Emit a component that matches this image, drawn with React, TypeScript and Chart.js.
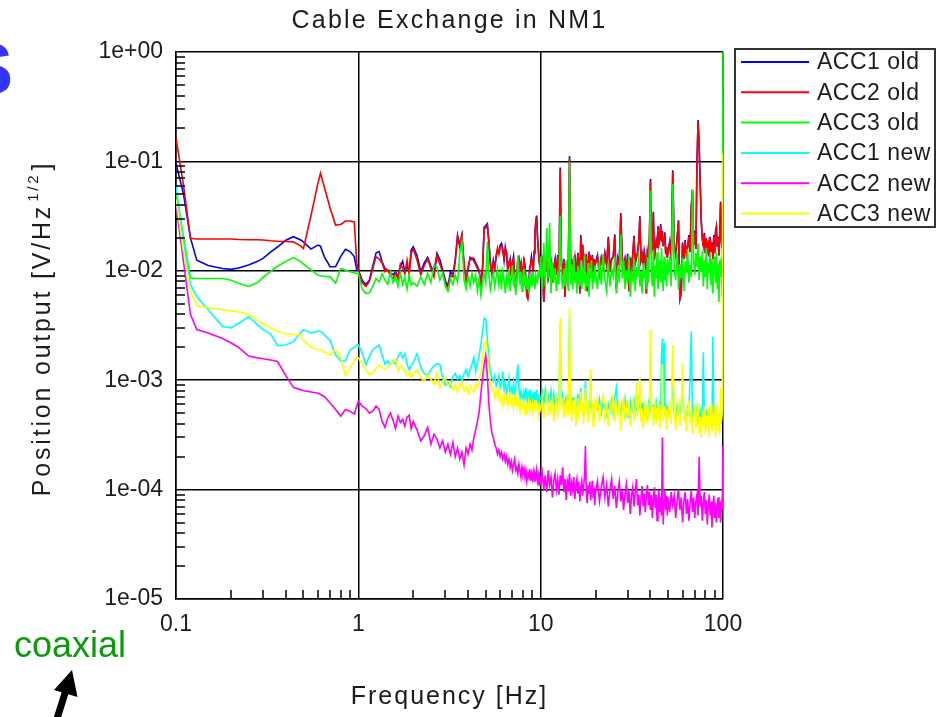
import React, { useEffect, useRef } from 'react';
import { Chart, registerables } from 'chart.js';

Chart.register(...registerables);

// Frequency bins [Hz]
const freq = [
  0.1, 0.11, 0.12, 0.13, 0.15, 0.18, 0.2, 0.22, 0.25, 0.28, 0.3, 0.33, 0.36, 0.4, 0.44, 0.48, 0.5, 0.55, 0.6, 0.62, 0.65, 0.7, 0.75, 0.8, 0.85, 0.9, 0.95, 0.98,
  1, 1.05, 1.1, 1.15, 1.2, 1.25, 1.3, 1.35, 1.4, 1.45, 1.5, 1.55, 1.6, 1.65, 1.7, 1.75, 1.8, 1.85, 1.9, 1.95,
  2, 2.1, 2.2, 2.3, 2.4, 2.5, 2.6, 2.7, 2.8, 2.9, 3, 3.1, 3.2, 3.3, 3.4, 3.5, 3.6, 3.7, 3.8, 3.9, 4, 4.1, 4.2, 4.3, 4.4, 4.5, 4.6, 4.7, 4.8, 4.9,
  5, 5.1, 5.2, 5.3, 5.4, 5.5, 5.6, 5.7, 5.8, 5.9, 6, 6.1, 6.2, 6.3, 6.4, 6.5, 6.6, 6.7, 6.8, 6.9,
  7, 7.1, 7.2, 7.3, 7.4, 7.5, 7.6, 7.7, 7.8, 7.9, 8, 8.1, 8.2, 8.3, 8.4, 8.5, 8.6, 8.7, 8.8, 8.9,
  9, 9.1, 9.2, 9.3, 9.4, 9.5, 9.6, 9.7, 9.8, 9.9,
  10, 10.2, 10.4, 10.6, 10.8, 11, 11.2, 11.4, 11.6, 11.8, 12, 12.2, 12.4, 12.6, 12.8, 13, 13.2, 13.4, 13.6, 13.8,
  14, 14.2, 14.4, 14.6, 14.8, 15, 15.2, 15.4, 15.6, 15.8, 16, 16.2, 16.4, 16.6, 16.8, 17, 17.2, 17.4, 17.6, 17.8,
  18, 18.2, 18.4, 18.6, 18.8, 19, 19.2, 19.4, 19.6, 19.8,
  20, 20.5, 21, 21.5, 22, 22.5, 23, 23.5, 24, 24.5, 25, 25.5, 26, 26.5, 27, 27.5, 28, 28.5, 29, 29.5,
  30, 30.5, 31, 31.5, 32, 32.5, 33, 33.5, 34, 34.5, 35, 35.5, 36, 36.5, 37, 37.5, 38, 38.5, 39, 39.5,
  40, 40.5, 41, 41.5, 42, 42.5, 43, 43.5, 44, 44.5, 45, 45.5, 46, 46.5, 47, 47.5, 48, 48.5, 49, 49.5,
  50, 51, 52, 53, 54, 55, 56, 57, 58, 59, 60, 61, 62, 63, 64, 65, 66, 67, 68, 69,
  70, 71, 72, 73, 74, 75, 76, 77, 78, 79, 80, 81, 82, 83, 84, 85, 86, 87, 88, 89,
  90, 91, 92, 93, 94, 95, 96, 97, 98, 99, 100,
];

// Position output spectra [V/Hz^1/2], one value per frequency bin
const acc1Old = [
  0.096, 0.05, 0.02, 0.0125, 0.0112, 0.0105, 0.0103, 0.0106, 0.0113, 0.0122, 0.013, 0.0148, 0.0165, 0.019, 0.0205, 0.0192, 0.0184, 0.0158, 0.0172, 0.0168, 0.0135, 0.0109, 0.0109, 0.0135, 0.0157, 0.015, 0.0135, 0.0102,
  0.0102, 0.0082, 0.0075, 0.0082, 0.011, 0.0145, 0.015, 0.0121, 0.0105, 0.0101, 0.0095, 0.0092, 0.0098, 0.0088, 0.011, 0.0122, 0.0098, 0.011, 0.0098, 0.0155,
  0.0166, 0.0137, 0.0098, 0.0118, 0.0133, 0.011, 0.0098, 0.0145, 0.0127, 0.0102, 0.0082, 0.0072, 0.0098, 0.0092, 0.0127, 0.021, 0.0166, 0.021, 0.011, 0.0085, 0.0102, 0.0133, 0.0127, 0.013, 0.0118, 0.011, 0.0098, 0.0078, 0.0102, 0.025,
  0.026, 0.027, 0.018, 0.0118, 0.0095, 0.0125, 0.0108, 0.0135, 0.0155, 0.0148, 0.0172, 0.0178, 0.0158, 0.0125, 0.0165, 0.0142, 0.0105, 0.0115, 0.0128, 0.0092,
  0.0118, 0.0135, 0.0088, 0.0068, 0.0095, 0.0125, 0.0132, 0.0105, 0.0118, 0.0092, 0.0102, 0.0125, 0.0112, 0.0085, 0.0062, 0.0058, 0.0072, 0.0102, 0.0115, 0.0135,
  0.0118, 0.0098, 0.0145, 0.022, 0.028, 0.032, 0.0215, 0.0158, 0.0128, 0.0112,
  0.0105, 0.0124, 0.0052, 0.0095, 0.0139, 0.0085, 0.0098, 0.0119, 0.0078, 0.0108, 0.0129, 0.0092, 0.0139, 0.0088, 0.088, 0.0112, 0.0098, 0.0129, 0.0058, 0.0118,
  0.0095, 0.0126, 0.112, 0.0105, 0.0129, 0.0088, 0.0118, 0.0139, 0.0092, 0.0108, 0.0146, 0.0115, 0.0062, 0.0212, 0.0125, 0.0174, 0.0098, 0.0132, 0.0112, 0.0142,
  0.0065, 0.0122, 0.015, 0.0105, 0.0128, 0.0118, 0.0139, 0.0098, 0.0128, 0.0112,
  0.0118, 0.0139, 0.0095, 0.0132, 0.0108, 0.0146, 0.0112, 0.0205, 0.0098, 0.0129, 0.0135, 0.0215, 0.0068, 0.0132, 0.0118, 0.0338, 0.0136, 0.0108, 0.0129, 0.0095,
  0.0143, 0.0065, 0.0132, 0.0102, 0.0142, 0.0209, 0.0118, 0.0132, 0.0148, 0.0185, 0.0316, 0.0125, 0.0142, 0.0112, 0.015, 0.0128, 0.0062, 0.0157, 0.0135, 0.0205,
  0.069, 0.0145, 0.0172, 0.0347, 0.0125, 0.0158, 0.0191, 0.0165, 0.0256, 0.0175, 0.0198, 0.0267, 0.0185, 0.0232, 0.0168, 0.0195, 0.0225, 0.0142, 0.0165, 0.0132,
  0.0152, 0.0184, 0.0125, 0.083, 0.0168, 0.0142, 0.0201, 0.029, 0.0055, 0.0062, 0.0181, 0.0128, 0.0191, 0.0142, 0.0165, 0.0212, 0.0148, 0.0385, 0.0552, 0.0172,
  0.0232, 0.0158, 0.099, 0.239, 0.141, 0.062, 0.0285, 0.0201, 0.0168, 0.0222, 0.0145, 0.0198, 0.0158, 0.0184, 0.0135, 0.0205, 0.0152, 0.0181, 0.0128, 0.0212,
  0.0145, 0.0232, 0.0256, 0.0165, 0.0205, 0.0138, 0.0222, 0.0428, 0.0185, 0.0162, 0.045,
];

const acc2Old = [
  0.163, 0.06, 0.0198, 0.0195, 0.0195, 0.0195, 0.0195, 0.0193, 0.0192, 0.0192, 0.0191, 0.0188, 0.0186, 0.0185, 0.0184, 0.017, 0.016, 0.032, 0.063, 0.078, 0.0587, 0.0375, 0.0262, 0.0265, 0.0285, 0.0285, 0.028, 0.012,
  0.0101, 0.0078, 0.0072, 0.008, 0.0105, 0.0135, 0.0128, 0.0118, 0.0098, 0.0102, 0.009, 0.0085, 0.0095, 0.0084, 0.0115, 0.0106, 0.0094, 0.0125, 0.0092, 0.0145,
  0.0158, 0.0125, 0.0092, 0.0112, 0.0128, 0.0105, 0.0088, 0.0138, 0.0115, 0.0098, 0.0078, 0.0068, 0.0091, 0.0088, 0.012, 0.0205, 0.0175, 0.0215, 0.0118, 0.0082, 0.0108, 0.0128, 0.0132, 0.0122, 0.0114, 0.0105, 0.0102, 0.0075, 0.0108, 0.0245,
  0.0245, 0.026, 0.0185, 0.0112, 0.0098, 0.0118, 0.0102, 0.0138, 0.0162, 0.0142, 0.0165, 0.017, 0.015, 0.0132, 0.0158, 0.0148, 0.0098, 0.0122, 0.0125, 0.0088,
  0.0125, 0.0128, 0.0082, 0.0065, 0.0088, 0.0132, 0.0128, 0.0098, 0.0122, 0.0085, 0.0098, 0.0132, 0.0105, 0.0078, 0.0058, 0.0055, 0.0065, 0.0108, 0.0112, 0.0128,
  0.0125, 0.0092, 0.0152, 0.0215, 0.0272, 0.031, 0.0205, 0.0165, 0.0122, 0.0108,
  0.0105, 0.012, 0.0052, 0.0095, 0.0135, 0.0085, 0.0098, 0.0115, 0.0078, 0.0108, 0.0125, 0.0092, 0.0135, 0.0088, 0.084, 0.0112, 0.0098, 0.0125, 0.0058, 0.0115,
  0.0095, 0.0122, 0.107, 0.0105, 0.0125, 0.0088, 0.0118, 0.0135, 0.0092, 0.0108, 0.0142, 0.0115, 0.0062, 0.0205, 0.0125, 0.0168, 0.0098, 0.0128, 0.0112, 0.0138,
  0.0065, 0.0122, 0.0145, 0.0105, 0.0128, 0.0118, 0.0135, 0.0098, 0.0125, 0.0112,
  0.0118, 0.0135, 0.0095, 0.0128, 0.0108, 0.0142, 0.0112, 0.0198, 0.0098, 0.0125, 0.0135, 0.0208, 0.0068, 0.0128, 0.0118, 0.0325, 0.0132, 0.0108, 0.0125, 0.0095,
  0.0138, 0.0065, 0.0128, 0.0102, 0.0142, 0.0202, 0.0118, 0.0132, 0.0148, 0.0185, 0.0305, 0.0125, 0.0138, 0.0112, 0.0145, 0.0128, 0.0062, 0.0152, 0.0135, 0.0198,
  0.066, 0.0145, 0.0172, 0.0335, 0.0125, 0.0158, 0.0185, 0.0165, 0.0248, 0.0175, 0.0198, 0.0258, 0.0185, 0.0225, 0.0168, 0.0195, 0.0218, 0.0142, 0.0165, 0.0132,
  0.0152, 0.0178, 0.0125, 0.08, 0.0168, 0.0142, 0.0195, 0.028, 0.0055, 0.0062, 0.0175, 0.0128, 0.0185, 0.0142, 0.0165, 0.0205, 0.0148, 0.0385, 0.0535, 0.0172,
  0.0225, 0.0158, 0.095, 0.23, 0.135, 0.062, 0.0285, 0.0195, 0.0168, 0.0215, 0.0145, 0.0192, 0.0158, 0.0178, 0.0135, 0.0198, 0.0152, 0.0175, 0.0128, 0.0205,
  0.0145, 0.0225, 0.0248, 0.0165, 0.0198, 0.0138, 0.0215, 0.0415, 0.0185, 0.0162, 0.045,
];

const acc3Old = [
  0.053, 0.02, 0.0086, 0.0085, 0.0085, 0.0085, 0.0082, 0.0077, 0.0072, 0.0078, 0.0087, 0.0099, 0.011, 0.0122, 0.0132, 0.0122, 0.0115, 0.0102, 0.0091, 0.009, 0.0089, 0.0088, 0.0077, 0.0105, 0.0101, 0.0098, 0.0096, 0.0094,
  0.0095, 0.0068, 0.0062, 0.0063, 0.0072, 0.0085, 0.0079, 0.0094, 0.0082, 0.0075, 0.0098, 0.0078, 0.0088, 0.0072, 0.0095, 0.0075, 0.0087, 0.0068, 0.0092, 0.0074,
  0.0078, 0.0072, 0.0088, 0.0075, 0.0095, 0.0078, 0.0112, 0.0108, 0.0082, 0.0095, 0.0072, 0.0065, 0.0085, 0.0075, 0.0092, 0.0078, 0.0145, 0.0185, 0.0082, 0.0068, 0.0088, 0.0072, 0.0095, 0.0078, 0.0092, 0.0065, 0.0085, 0.006, 0.0078, 0.0095,
  0.0078, 0.0185, 0.009, 0.0068, 0.0082, 0.0095, 0.0072, 0.0088, 0.0105, 0.0075, 0.0092, 0.0068, 0.0098, 0.0082, 0.0062, 0.0088, 0.0075, 0.0102, 0.0065, 0.0085,
  0.0112, 0.0072, 0.0095, 0.006, 0.0082, 0.0138, 0.0092, 0.0078, 0.0098, 0.0065, 0.0088, 0.0105, 0.0072, 0.0092, 0.0068, 0.0085, 0.0062, 0.0095, 0.0078, 0.0088,
  0.0072, 0.0098, 0.0082, 0.0068, 0.0092, 0.0085, 0.0075, 0.0102, 0.0088, 0.0095,
  0.0135, 0.0068, 0.018, 0.0072, 0.0245, 0.0085, 0.0275, 0.0062, 0.012, 0.0078, 0.0105, 0.0065, 0.0092, 0.0075, 0.032, 0.0088, 0.0068, 0.0105, 0.0072, 0.0125,
  0.0082, 0.0065, 0.098, 0.0075, 0.0115, 0.0068, 0.0135, 0.0078, 0.0098, 0.0062, 0.0112, 0.0085, 0.0072, 0.0125, 0.0068, 0.0105, 0.0078, 0.0138, 0.0065, 0.0095,
  0.0072, 0.0118, 0.0058, 0.0102, 0.0085, 0.0125, 0.0068, 0.0098, 0.0078, 0.0112,
  0.0098, 0.0068, 0.0125, 0.0075, 0.0142, 0.0082, 0.0065, 0.0118, 0.0072, 0.0105, 0.0088, 0.0135, 0.0062, 0.0112, 0.0078, 0.0215, 0.0085, 0.0125, 0.0068, 0.0102,
  0.0075, 0.0138, 0.0058, 0.0095, 0.0082, 0.0128, 0.0065, 0.0108, 0.0088, 0.0145, 0.0072, 0.0098, 0.0062, 0.0118, 0.0085, 0.0102, 0.0068, 0.0132, 0.0078, 0.0165,
  0.054, 0.0092, 0.0072, 0.0155, 0.0058, 0.0112, 0.0085, 0.0148, 0.0068, 0.0105, 0.0125, 0.0078, 0.0162, 0.0092, 0.0065, 0.0135, 0.0082, 0.0115, 0.0072, 0.0128,
  0.0092, 0.0135, 0.0072, 0.062, 0.0105, 0.0082, 0.0148, 0.0068, 0.0115, 0.0085, 0.0132, 0.0065, 0.0122, 0.0095, 0.0158, 0.0078, 0.0112, 0.0088, 0.055, 0.0125,
  0.0092, 0.0145, 0.0108, 0.0178, 0.0082, 0.0135, 0.0098, 0.0152, 0.0072, 0.0125, 0.0088, 0.0162, 0.0068, 0.0118, 0.0095, 0.0142, 0.0075, 0.0128, 0.0062, 0.0108,
  0.0135, 0.0078, 0.0148, 0.0068, 0.0115, 0.0052, 0.0125, 0.0088, 0.0132, 0.0058, 1.0,
];

const acc1New = [
  0.06, 0.018, 0.0075, 0.0058, 0.0044, 0.0031, 0.003, 0.0033, 0.0038, 0.0032, 0.0029, 0.00265, 0.00207, 0.0021, 0.00225, 0.0027, 0.0029, 0.0027, 0.0028, 0.0028, 0.0026, 0.0023, 0.0017, 0.0015, 0.0015, 0.0019, 0.002, 0.0021,
  0.0021, 0.00178, 0.00138, 0.00165, 0.0019, 0.002, 0.0021, 0.0017, 0.0014, 0.0015, 0.00138, 0.0015, 0.0014, 0.00165, 0.00178, 0.0016, 0.00175, 0.0014, 0.00125, 0.00135,
  0.00145, 0.00175, 0.0013, 0.00115, 0.0011, 0.00125, 0.00135, 0.00142, 0.00138, 0.00105, 0.0009, 0.00095, 0.00087, 0.00108, 0.00115, 0.00102, 0.0011, 0.00098, 0.00115, 0.00125, 0.00108, 0.00125, 0.0014, 0.00162, 0.0012, 0.00145, 0.0017, 0.0021, 0.0028, 0.0037,
  0.0036, 0.0024, 0.0016, 0.0012, 0.00105, 0.00098, 0.0011, 0.00088, 0.00095, 0.0011, 0.00085, 0.00092, 0.0012, 0.0008, 0.00095, 0.00075, 0.00088, 0.00105, 0.0007, 0.00085,
  0.00078, 0.00095, 0.00072, 0.00088, 0.0011, 0.0014, 0.00085, 0.00068, 0.0008, 0.00072, 0.00065, 0.00078, 0.00068, 0.00085, 0.0007, 0.00062, 0.00075, 0.00068, 0.00082, 0.0006,
  0.00072, 0.00065, 0.00078, 0.0006, 0.0007, 0.00082, 0.00062, 0.00075, 0.00058, 0.00068,
  0.00068, 0.00078, 0.0006, 0.00082, 0.00065, 0.00072, 0.00058, 0.0008, 0.00062, 0.00075, 0.00055, 0.0007, 0.00062, 0.00068, 0.0032, 0.0006, 0.00072, 0.00055, 0.00065, 0.0007,
  0.00058, 0.00065, 0.0038, 0.00062, 0.00055, 0.0007, 0.00052, 0.00062, 0.00048, 0.0006, 0.00075, 0.00055, 0.00065, 0.00085, 0.0005, 0.0006, 0.00048, 0.00062, 0.00098, 0.00055,
  0.0006, 0.0005, 0.00065, 0.00055, 0.0011, 0.00052, 0.0006, 0.00045, 0.00058, 0.00062,
  0.0006, 0.00055, 0.00068, 0.0005, 0.00062, 0.00058, 0.00048, 0.0006, 0.00052, 0.00065, 0.0005, 0.0007, 0.00085, 0.00052, 0.0006, 0.00048, 0.00062, 0.00055, 0.00068, 0.0005,
  0.00058, 0.00045, 0.00062, 0.0005, 0.00055, 0.00065, 0.00048, 0.0006, 0.00052, 0.00072, 0.00058, 0.0005, 0.00062, 0.00045, 0.00058, 0.0005, 0.00055, 0.00048, 0.0006, 0.0005,
  0.0018, 0.00052, 0.00048, 0.0006, 0.00045, 0.00055, 0.00062, 0.00048, 0.00058, 0.0005, 0.00065, 0.00048, 0.0016, 0.0024, 0.00055, 0.0022, 0.0005, 0.00062, 0.00046, 0.00058,
  0.0005, 0.00055, 0.00048, 0.0012, 0.0005, 0.00045, 0.00058, 0.00052, 0.00046, 0.0006, 0.0009, 0.00048, 0.00052, 0.00044, 0.00056, 0.0005, 0.0011, 0.0028, 0.00045, 0.00052,
  0.00048, 0.00055, 0.00042, 0.0005, 0.00046, 0.00052, 0.00044, 0.0005, 0.0018, 0.00048, 0.00042, 0.0005, 0.00044, 0.00048, 0.0004, 0.00052, 0.00046, 0.0004, 0.0025, 0.00042,
  0.00048, 0.00038, 0.00046, 0.0005, 0.00042, 0.00048, 0.0004, 0.00052, 0.00044, 0.0005, 0.0009,
];

const acc2New = [
  0.04, 0.012, 0.004, 0.0029, 0.0027, 0.0024, 0.0022, 0.002, 0.00166, 0.0016, 0.00157, 0.00153, 0.00148, 0.0011, 0.00086, 0.00082, 0.0008, 0.00078, 0.00076, 0.00074, 0.00071, 0.00062, 0.00054, 0.00047, 0.00054, 0.00052, 0.00049, 0.00058,
  0.00064, 0.00058, 0.00055, 0.0005, 0.00052, 0.00058, 0.00054, 0.00042, 0.00037, 0.00045, 0.0005, 0.00043, 0.00036, 0.00047, 0.00041, 0.00044, 0.00038, 0.00046, 0.00048, 0.00036,
  0.00042, 0.00035, 0.00028, 0.00031, 0.00037, 0.00026, 0.00032, 0.00029, 0.00024, 0.00028, 0.00022, 0.00026, 0.00021, 0.00027, 0.0002, 0.00024, 0.00019, 0.00022, 0.000168, 0.00024, 0.00021, 0.00026, 0.00023, 0.0003, 0.00035, 0.00042, 0.00052, 0.00075, 0.00105, 0.0014,
  0.0017, 0.0011, 0.0006, 0.00042, 0.00033, 0.0003, 0.00026, 0.00024, 0.00021, 0.00023, 0.0002, 0.00022, 0.00019, 0.00021, 0.00018, 0.0002, 0.00017, 0.00019, 0.00016, 0.00018,
  0.00015, 0.00017, 0.00019, 0.00015, 0.00016, 0.00014, 0.00017, 0.00015, 0.00013, 0.00016, 0.00014, 0.000155, 0.00013, 0.00015, 0.00012, 0.00014, 0.00013, 0.000155, 0.00012, 0.00014,
  0.000125, 0.000145, 0.00012, 0.00014, 0.00013, 0.00015, 0.00012, 0.000135, 0.00011, 0.00013,
  0.00012, 0.000145, 0.0001, 0.000135, 0.000095, 0.00015, 0.00011, 0.00013, 0.000085, 0.00012, 0.00014, 0.0001, 0.000125, 0.00009, 0.000135, 0.00011, 0.00016, 0.000095, 0.000125, 0.00008,
  0.00012, 0.000105, 0.00014, 0.000088, 0.000115, 0.000098, 0.00013, 0.000082, 0.00011, 0.000125, 0.000092, 0.000118, 0.000078, 0.000105, 0.00012, 0.000088, 0.000108, 0.00013, 0.00025, 0.000095,
  0.000075, 0.00011, 0.000092, 0.000118, 0.00008, 0.0001, 0.00012, 0.000085, 0.000105, 0.000072,
  0.000095, 0.00012, 0.000078, 0.000105, 0.00013, 0.000085, 0.00011, 0.00007, 0.0001, 0.000125, 0.000082, 0.000108, 0.000068, 0.000095, 0.000118, 0.000078, 0.0001, 0.000065, 0.000092, 0.000112,
  0.000075, 0.000098, 0.00006, 0.000088, 0.000105, 0.00007, 0.000095, 0.000125, 0.000072, 0.00009, 0.000058, 0.000085, 0.000108, 0.00007, 0.000092, 0.000062, 0.000088, 0.00011, 0.000072, 0.000095,
  0.000065, 0.00009, 0.000055, 0.000082, 0.000105, 0.000068, 0.00009, 0.000052, 0.000078, 0.0001, 0.000062, 0.000085, 0.000058, 0.0003, 0.000048, 0.00008, 0.0001, 0.000065, 0.000088, 0.000058,
  0.000085, 0.000062, 0.000095, 0.000072, 0.000088, 0.000055, 0.00008, 0.0001, 0.000065, 0.000085, 0.00005, 0.000078, 0.000095, 0.00006, 0.000082, 0.000052, 0.000075, 0.000098, 0.000062, 0.000085,
  0.000055, 0.000078, 0.00009, 0.000058, 0.0002, 0.00007, 0.000088, 0.000052, 0.000075, 0.000095, 0.00006, 0.00008, 0.000048, 0.00007, 0.00009, 0.000058, 0.000078, 0.000045, 0.000072, 0.000088,
  0.000055, 0.000075, 0.00005, 0.00007, 0.000085, 0.000055, 0.000078, 0.00005, 0.000072, 0.000065, 0.00025,
];

const acc3New = [
  0.045, 0.015, 0.0065, 0.0048, 0.0046, 0.0044, 0.0043, 0.0042, 0.004, 0.0035, 0.0033, 0.003, 0.0028, 0.00266, 0.0026, 0.0026, 0.0023, 0.002, 0.0019, 0.0019, 0.0018, 0.0017, 0.0019, 0.0016, 0.0011, 0.0013, 0.0015, 0.0016,
  0.0016, 0.0014, 0.00125, 0.00112, 0.00118, 0.00128, 0.00138, 0.0013, 0.00125, 0.00132, 0.0014, 0.00148, 0.00155, 0.0012, 0.00135, 0.00128, 0.0012, 0.0011, 0.00118, 0.00105,
  0.00115, 0.00125, 0.00105, 0.00098, 0.00112, 0.00102, 0.00092, 0.00118, 0.00085, 0.00098, 0.00105, 0.00088, 0.00095, 0.00082, 0.00092, 0.00078, 0.00088, 0.00095, 0.0008, 0.00088, 0.00075, 0.0009, 0.00082, 0.00078, 0.00092, 0.00085, 0.001, 0.0012, 0.0016, 0.0022,
  0.0023, 0.0018, 0.0012, 0.00095, 0.0008, 0.00085, 0.0007, 0.00078, 0.00068, 0.00082, 0.00065, 0.00072, 0.0006, 0.00075, 0.00062, 0.0007, 0.00058, 0.00068, 0.00075, 0.0006,
  0.00066, 0.00055, 0.00068, 0.0006, 0.00072, 0.00058, 0.00065, 0.00052, 0.00062, 0.00055, 0.00068, 0.00058, 0.0005, 0.00062, 0.00048, 0.00058, 0.00065, 0.00052, 0.0006, 0.00055,
  0.00062, 0.0005, 0.00058, 0.00066, 0.00052, 0.0006, 0.00055, 0.00048, 0.00058, 0.00052,
  0.00055, 0.00068, 0.00045, 0.0006, 0.00075, 0.00048, 0.00065, 0.00052, 0.00072, 0.00042, 0.00058, 0.00066, 0.00048, 0.0006, 0.0037, 0.00055, 0.00068, 0.00045, 0.0006, 0.00052,
  0.00072, 0.00048, 0.0046, 0.00058, 0.00042, 0.00065, 0.0005, 0.0007, 0.00038, 0.00055, 0.00068, 0.00045, 0.0006, 0.00078, 0.00048, 0.00062, 0.0004, 0.00058, 0.00085, 0.0005,
  0.00065, 0.00042, 0.00058, 0.0007, 0.00125, 0.00048, 0.00062, 0.00038, 0.00055, 0.00068,
  0.00052, 0.00068, 0.00042, 0.0006, 0.00072, 0.00045, 0.00058, 0.00038, 0.00062, 0.0005, 0.00075, 0.00042, 0.00058, 0.00048, 0.00065, 0.00035, 0.00055, 0.0007, 0.00042, 0.00058,
  0.00048, 0.00062, 0.00038, 0.00055, 0.00068, 0.00045, 0.00052, 0.00095, 0.00048, 0.0006, 0.00105, 0.00042, 0.00055, 0.00036, 0.0005, 0.00065, 0.0004, 0.00055, 0.00048, 0.00062,
  0.0029, 0.00045, 0.00058, 0.00038, 0.00052, 0.00068, 0.0004, 0.00056, 0.00045, 0.0006, 0.00036, 0.0005, 0.00062, 0.0014, 0.00042, 0.00058, 0.00046, 0.00055, 0.00035, 0.0005,
  0.00048, 0.00062, 0.0004, 0.0021, 0.00055, 0.00035, 0.0005, 0.00068, 0.00038, 0.00052, 0.0014, 0.00042, 0.00058, 0.00034, 0.0005, 0.00065, 0.0004, 0.00055, 0.00032, 0.00048,
  0.0006, 0.00036, 0.0005, 0.00062, 0.00033, 0.00046, 0.0003, 0.00052, 0.0004, 0.00058, 0.00032, 0.00048, 0.00036, 0.00055, 0.0003, 0.00045, 0.0006, 0.00034, 0.0005, 0.00038,
  0.00056, 0.0003, 0.00045, 0.00062, 0.00035, 0.0005, 0.00032, 0.00085, 0.00042, 0.00055, 0.12,
];

const seriesNames = ['ACC1 old', 'ACC2 old', 'ACC3 old', 'ACC1 new', 'ACC2 new', 'ACC3 new'];
const seriesColors = ['#0000ff', '#ff0000', '#00ff00', '#00ffff', '#ff00ff', '#ffff00'];
const seriesValues = [acc1Old, acc2Old, acc3Old, acc1New, acc2New, acc3New];

const xTicks = [0.1, 1, 10, 100];
const xTickLabels = ['0.1', '1', '10', '100'];
const yTicks = [1e-5, 1e-4, 1e-3, 1e-2, 1e-1, 1];
const yTickLabels = ['1e-05', '1e-04', '1e-03', '1e-02', '1e-01', '1e+00'];

const chartTitle = 'Cable Exchange in NM1';
const xTitle = 'Frequency [Hz]';
const yTitleMain = 'Position output [V/Hz';
const yTitleSup = '1/2';
const yTitleEnd = ']';

const FONT = '"Liberation Sans", Arial, Helvetica, sans-serif';
const TEXT = '#1c1c1c';

// Inner minor ticks, title, axis titles, legend box and side notes
const decorPlugin = {
  id: 'decor',
  afterDraw(chart: any) {
    const { ctx, chartArea: area, scales } = chart;
    const xs = scales.x;
    const ys = scales.y;
    ctx.save();

    // minor ticks pointing into the plot
    ctx.strokeStyle = '#000';
    ctx.lineWidth = 1.5;
    ctx.beginPath();
    for (let k = 0; k < xTicks.length - 1; k++) {
      for (let m = 2; m < 10; m++) {
        const px = Math.round(xs.getPixelForValue(xTicks[k] * m));
        ctx.moveTo(px, area.bottom);
        ctx.lineTo(px, area.bottom - 9);
      }
    }
    for (let k = 0; k < yTicks.length - 1; k++) {
      for (let m = 2; m < 10; m++) {
        const py = Math.round(ys.getPixelForValue(yTicks[k] * m));
        ctx.moveTo(area.left, py);
        ctx.lineTo(area.left + 9, py);
      }
    }
    ctx.stroke();

    // title and x axis title
    ctx.fillStyle = TEXT;
    ctx.font = `25px ${FONT}`;
    ctx.textAlign = 'center';
    ctx.textBaseline = 'middle';
    ctx.letterSpacing = '2.2px';
    ctx.fillText(chartTitle, (area.left + area.right) / 2, 21);
    ctx.letterSpacing = '2px';
    ctx.fillText(xTitle, (area.left + area.right) / 2, 697);

    // y axis title with the 1/2 exponent
    ctx.save();
    ctx.translate(50, (area.top + area.bottom) / 2 + 3);
    ctx.rotate(-Math.PI / 2);
    ctx.textAlign = 'left';
    ctx.textBaseline = 'alphabetic';
    ctx.letterSpacing = '2.8px';
    ctx.font = `25px ${FONT}`;
    const w1 = ctx.measureText(yTitleMain).width;
    const w3 = ctx.measureText(yTitleEnd).width;
    ctx.font = `15px ${FONT}`;
    const w2 = ctx.measureText(yTitleSup).width;
    const x0 = -(w1 + w2 + w3 + 4) / 2;
    ctx.font = `25px ${FONT}`;
    ctx.fillText(yTitleMain, x0, 0);
    ctx.font = `15px ${FONT}`;
    ctx.fillText(yTitleSup, x0 + w1 + 2, -12);
    ctx.font = `25px ${FONT}`;
    ctx.fillText(yTitleEnd, x0 + w1 + w2 + 4, 0);
    ctx.restore();

    // legend box
    ctx.letterSpacing = '0.5px';
    const lx = area.right + 11;
    const ly = 48;
    ctx.fillStyle = '#fff';
    ctx.fillRect(lx, ly, 202, 180);
    ctx.strokeStyle = '#333';
    ctx.lineWidth = 2;
    ctx.strokeRect(lx + 1, ly + 1, 200, 178);
    ctx.font = `23px ${FONT}`;
    ctx.textAlign = 'left';
    ctx.textBaseline = 'middle';
    chart.data.datasets.forEach((ds: any, i: number) => {
      const ry = ly + 14 + i * 30.3;
      ctx.strokeStyle = ds.borderColor;
      ctx.lineWidth = 2;
      ctx.beginPath();
      ctx.moveTo(lx + 7, ry);
      ctx.lineTo(lx + 75, ry);
      ctx.stroke();
      ctx.fillStyle = TEXT;
      ctx.fillText(ds.label, lx + 83, ry + 1);
    });

    // side notes
    ctx.letterSpacing = '0px';
    ctx.fillStyle = '#3434ff';
    ctx.font = `bold 72px ${FONT}`;
    ctx.textAlign = 'right';
    ctx.textBaseline = 'alphabetic';
    ctx.fillText('S', 13, 94);
    ctx.fillStyle = '#0a9a0a';
    ctx.font = `36px ${FONT}`;
    ctx.textAlign = 'left';
    ctx.fillText('coaxial', 14, 657);

    // arrow pointing at the note
    ctx.strokeStyle = '#000';
    ctx.fillStyle = '#000';
    ctx.lineWidth = 7;
    ctx.beginPath();
    ctx.moveTo(56, 722);
    ctx.lineTo(66, 690);
    ctx.stroke();
    ctx.beginPath();
    ctx.moveTo(72, 670);
    ctx.lineTo(54, 690);
    ctx.lineTo(77.5, 697);
    ctx.closePath();
    ctx.fill();

    ctx.restore();
  },
};

export default function App() {
  const canvasRef = useRef<HTMLCanvasElement | null>(null);

  useEffect(() => {
    document.body.style.margin = '0';
    const canvas = canvasRef.current;
    if (!canvas) return;

    const datasets = seriesValues.map((vals, i) => ({
      label: seriesNames[i],
      data: vals.map((v, j) => ({ x: freq[j], y: v })),
      borderColor: seriesColors[i],
      backgroundColor: seriesColors[i],
      borderWidth: 1.6,
      pointRadius: 0,
      tension: 0,
      fill: false,
      order: seriesValues.length - 1 - i,
    }));

    const tickFont = { family: FONT, size: 23 };

    const chart = new Chart(canvas, {
      type: 'line',
      data: { datasets },
      options: {
        responsive: false,
        animation: false,
        devicePixelRatio: 1,
        layout: { padding: { left: 0, top: 52, right: 214, bottom: 0 } },
        plugins: {
          legend: { display: false },
          title: { display: false },
          tooltip: { enabled: false },
        },
        scales: {
          x: {
            type: 'logarithmic',
            min: 0.1,
            max: 100,
            z: 1,
            afterBuildTicks: (s: any) => {
              s.ticks = xTicks.map((v) => ({ value: v }));
            },
            afterFit: (s: any) => {
              s.height = 118;
            },
            ticks: {
              autoSkip: false,
              maxRotation: 0,
              padding: 12,
              color: TEXT,
              font: tickFont,
              callback: (_v: any, i: number) => xTickLabels[i],
            },
            grid: { color: '#000', lineWidth: 1.5, drawTicks: false },
            border: { display: true, color: '#000', width: 1.5 },
          },
          y: {
            type: 'logarithmic',
            min: 1e-5,
            max: 1,
            z: 1,
            afterBuildTicks: (s: any) => {
              s.ticks = yTicks.map((v) => ({ value: v }));
            },
            afterFit: (s: any) => {
              s.width = 176;
            },
            ticks: {
              autoSkip: false,
              padding: 13,
              color: TEXT,
              font: tickFont,
              callback: (_v: any, i: number) => yTickLabels[i],
            },
            grid: { color: '#000', lineWidth: 1.5, drawTicks: false },
            border: { display: true, color: '#000', width: 1.5 },
          },
        },
      },
      plugins: [decorPlugin],
    } as any);

    return () => chart.destroy();
  }, []);

  return (
    <div style={{ position: 'relative', width: 937, height: 717, background: '#fff', overflow: 'hidden' }}>
      <canvas ref={canvasRef} width={937} height={717} style={{ display: 'block' }} />
    </div>
  );
}
